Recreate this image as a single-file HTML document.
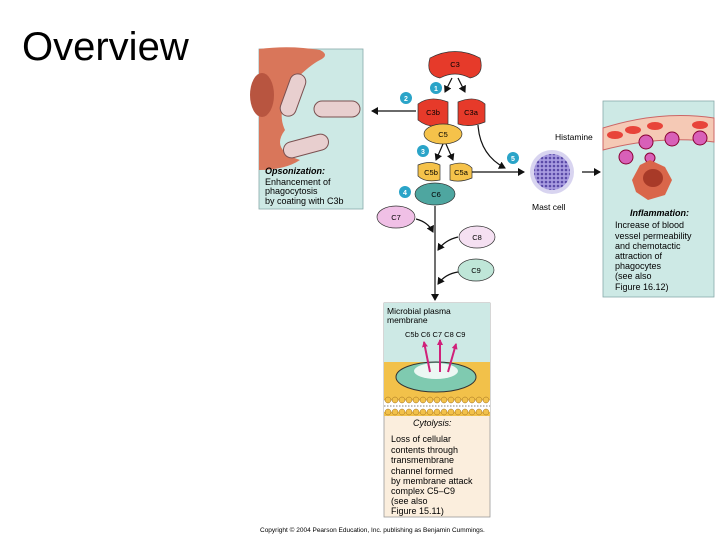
<!DOCTYPE html>
<html><head><style>
body{margin:0;background:#fff;width:720px;height:540px;overflow:hidden}
svg text{font-family:"Liberation Sans",sans-serif}
</style></head><body>
<svg width="720" height="540" viewBox="0 0 720 540">
<defs>
<marker id="a" markerUnits="userSpaceOnUse" markerWidth="8" markerHeight="8" refX="6" refY="4" orient="auto"><path d="M0,0 L7,4 L0,8z" fill="#111"/></marker>
<marker id="m" markerUnits="userSpaceOnUse" markerWidth="6" markerHeight="6" refX="5" refY="3" orient="auto"><path d="M0,0 L6,3 L0,6z" fill="#d0207a"/></marker>
<pattern id="dots" width="4" height="4" patternUnits="userSpaceOnUse"><circle cx="2" cy="2" r="1.3" fill="#5a4aa8"/></pattern>
</defs>
<text x="22" y="60" font-size="40" fill="#000">Overview</text>
<!-- left panel -->
<rect x="259" y="49" width="104" height="160" fill="#cde9e5" stroke="#8aa" stroke-width="0.8"/>
<path d="M259,49 L259,170 Q285,170 300,160 Q270,150 285,130 Q275,110 295,80 Q310,65 320,60 Q330,55 320,50 Q290,45 259,49z" fill="#d9765a"/>
<ellipse cx="262" cy="95" rx="12" ry="22" fill="#b85540"/>
<g fill="#e8cfcf" stroke="#7a5050"><rect x="285" y="73" width="16" height="44" rx="8" transform="rotate(20 293 95)"/><rect x="314" y="101" width="46" height="16" rx="8"/><rect x="283" y="138" width="46" height="16" rx="8" transform="rotate(-15 306 146)"/></g>
<text x="265" y="174" font-size="9" font-style="italic" font-weight="bold">Opsonization:</text>
<text font-size="9"><tspan x="265" y="185">Enhancement of</tspan><tspan x="265" y="194">phagocytosis</tspan><tspan x="265" y="204">by coating with C3b</tspan></text>
<!-- right panel -->
<rect x="603" y="101" width="111" height="196" fill="#cde9e5" stroke="#8aa" stroke-width="0.8"/>
<path d="M603,128 Q660,110 714,118 L714,142 Q660,135 603,150z" fill="#f5c9b5" stroke="#c66"/>
<g fill="#e8443a"><ellipse cx="615" cy="135" rx="8" ry="4"/><ellipse cx="633" cy="130" rx="8" ry="4"/><ellipse cx="655" cy="126" rx="8" ry="4"/><ellipse cx="700" cy="125" rx="8" ry="4"/></g>
<g fill="#d860b8" stroke="#803"><circle cx="646" cy="142" r="7"/><circle cx="672" cy="139" r="7"/><circle cx="700" cy="138" r="7"/><circle cx="626" cy="157" r="7"/><circle cx="650" cy="158" r="5"/></g>
<path d="M632,180 L640,165 L650,160 L665,167 L672,180 L665,195 L648,200 L636,192z" fill="#d9664a"/>
<ellipse cx="653" cy="178" rx="10" ry="9" fill="#a83a28"/>
<text x="630" y="216" font-size="9" font-style="italic" font-weight="bold">Inflammation:</text>
<text font-size="9"><tspan x="615" y="228">Increase of blood</tspan><tspan x="615" y="239">vessel permeability</tspan><tspan x="615" y="249">and chemotactic</tspan><tspan x="615" y="259">attraction of</tspan><tspan x="615" y="269">phagocytes</tspan><tspan x="615" y="279">(see also</tspan><tspan x="615" y="290">Figure 16.12)</tspan></text>
<!-- bottom panel -->
<rect x="384" y="303" width="106" height="214" fill="#fbeedd" stroke="#999" stroke-width="0.8"/>
<rect x="384" y="303" width="106" height="60" fill="#cde9e5"/>
<rect x="384" y="362" width="106" height="54" fill="#f2c14a"/>
<rect x="384" y="400" width="106" height="12" fill="#fff"/>
<g fill="#f2c14a" stroke="#a87" stroke-width="0.5">
<path d="M384,400 H490" stroke-dasharray="0"/>
</g>
<g stroke="#555" stroke-width="0.8" stroke-dasharray="1.5 1.5"><line x1="384" y1="406" x2="490" y2="406"/></g>
<g fill="#f2c14a" stroke="#a07020" stroke-width="0.5">
<circle cx="388" cy="400" r="3"/><circle cx="395" cy="400" r="3"/><circle cx="402" cy="400" r="3"/><circle cx="409" cy="400" r="3"/><circle cx="416" cy="400" r="3"/><circle cx="423" cy="400" r="3"/><circle cx="430" cy="400" r="3"/><circle cx="437" cy="400" r="3"/><circle cx="444" cy="400" r="3"/><circle cx="451" cy="400" r="3"/><circle cx="458" cy="400" r="3"/><circle cx="465" cy="400" r="3"/><circle cx="472" cy="400" r="3"/><circle cx="479" cy="400" r="3"/><circle cx="486" cy="400" r="3"/>
<circle cx="388" cy="412" r="3"/><circle cx="395" cy="412" r="3"/><circle cx="402" cy="412" r="3"/><circle cx="409" cy="412" r="3"/><circle cx="416" cy="412" r="3"/><circle cx="423" cy="412" r="3"/><circle cx="430" cy="412" r="3"/><circle cx="437" cy="412" r="3"/><circle cx="444" cy="412" r="3"/><circle cx="451" cy="412" r="3"/><circle cx="458" cy="412" r="3"/><circle cx="465" cy="412" r="3"/><circle cx="472" cy="412" r="3"/><circle cx="479" cy="412" r="3"/><circle cx="486" cy="412" r="3"/>
</g>
<ellipse cx="436" cy="377" rx="40" ry="15" fill="#7fcab0" stroke="#333"/>
<ellipse cx="436" cy="371" rx="22" ry="8" fill="#fff" opacity="0.85"/>
<g stroke="#d0207a" stroke-width="2" marker-end="url(#m)"><line x1="430" y1="372" x2="424" y2="342"/><line x1="440" y1="372" x2="440" y2="340"/><line x1="448" y1="372" x2="456" y2="344"/></g>
<text font-size="8.5"><tspan x="387" y="314">Microbial plasma</tspan><tspan x="387" y="323">membrane</tspan></text>
<text x="405" y="337" font-size="7.5">C5b  C6  C7  C8  C9</text>
<text x="413" y="426" font-size="9" font-style="italic">Cytolysis:</text>
<text font-size="9"><tspan x="391" y="442">Loss of cellular</tspan><tspan x="391" y="453">contents through</tspan><tspan x="391" y="463">transmembrane</tspan><tspan x="391" y="474">channel formed</tspan><tspan x="391" y="484">by membrane attack</tspan><tspan x="391" y="494">complex C5–C9</tspan><tspan x="391" y="504">(see also</tspan><tspan x="391" y="514">Figure 15.11)</tspan></text>
<!-- nodes -->
<g stroke="#333" stroke-width="0.7" font-size="7.5">
<path d="M430,58 Q455,45 480,58 Q485,75 470,78 Q455,70 440,78 Q425,75 430,58z" fill="#e63a2a"/>
<path d="M418,104 Q430,95 448,102 L448,124 Q430,130 418,120z" fill="#e63a2a"/>
<path d="M458,102 Q475,95 485,104 L485,122 Q470,128 458,124z" fill="#e63a2a"/>
<ellipse cx="443" cy="134" rx="19" ry="10" fill="#f5c24a"/>
<path d="M418,165 Q430,160 440,165 L440,180 Q425,183 418,176z" fill="#f5c24a"/>
<path d="M450,165 Q465,160 472,168 L472,178 Q460,183 450,180z" fill="#f5c24a"/>
<ellipse cx="435" cy="194" rx="20" ry="11" fill="#4ea6a0"/>
<ellipse cx="396" cy="217" rx="19" ry="11" fill="#f0c0e6"/>
<ellipse cx="477" cy="237" rx="18" ry="11" fill="#f5e0f2"/>
<ellipse cx="476" cy="270" rx="18" ry="11" fill="#bfe6d8"/>
</g>
<g font-size="7.5" text-anchor="middle"><text x="455" y="67">C3</text><text x="433" y="115">C3b</text><text x="471" y="115">C3a</text><text x="443" y="137">C5</text><text x="431" y="175">C5b</text><text x="461" y="175">C5a</text><text x="436" y="197">C6</text><text x="396" y="220">C7</text><text x="477" y="240">C8</text><text x="476" y="273">C9</text></g>
<g fill="#2aa4c8"><circle cx="436" cy="88" r="6"/><circle cx="406" cy="98" r="6"/><circle cx="423" cy="151" r="6"/><circle cx="405" cy="192" r="6"/><circle cx="513" cy="158" r="6"/></g>
<g fill="#fff" font-size="7" font-weight="bold" text-anchor="middle"><text x="436" y="91">1</text><text x="406" y="101">2</text><text x="423" y="154">3</text><text x="405" y="195">4</text><text x="513" y="161">5</text></g>
<!-- arrows -->
<g stroke="#111" stroke-width="1.2" fill="none" marker-end="url(#a)">
<path d="M452,78 L445,92"/><path d="M458,78 L465,92"/>
<path d="M416,111 L372,111"/>
<path d="M443,144 L436,160"/><path d="M446,144 L453,160"/>
<path d="M472,172 L524,172"/><path d="M582,172 L600,172"/>
<path d="M478,125 Q480,155 505,168"/>
<path d="M435,206 L435,300"/>
<path d="M416,219 Q428,222 433,232"/><path d="M458,237 Q445,240 438,250"/><path d="M458,272 Q445,274 438,284"/>
</g>
<circle cx="552" cy="172" r="22" fill="#d8d4f0"/>
<circle cx="552" cy="172" r="18" fill="#a89ce0"/>
<circle cx="552" cy="172" r="18" fill="url(#dots)"/>
<text x="555" y="140" font-size="8.5">Histamine</text>
<text x="532" y="210" font-size="8.5">Mast cell</text>
<text x="260" y="532" font-size="6.5">Copyright © 2004 Pearson Education, Inc. publishing as Benjamin Cummings.</text>
</svg>
</body></html>
